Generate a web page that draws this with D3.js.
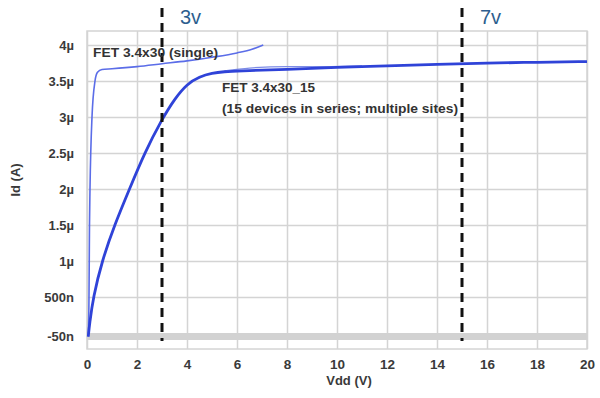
<!DOCTYPE html>
<html>
<head>
<meta charset="utf-8">
<script src="https://cdn.jsdelivr.net/npm/d3@7"></script>
<style>
  body { margin: 0; background: #fff; }
  text { font-family: "Liberation Sans", Arial, sans-serif; }
</style>
</head>
<body>
<div id="container"></div>
<script>
// Id vs Vdd for FET 3.4x30, single device vs 15 in series

// tick values and labels
var yTicks = [-0.05, 0.5, 1, 1.5, 2, 2.5, 3, 3.5, 4];
var yTickLabels = ["-50n", "500n", "1\u00b5", "1.5\u00b5", "2\u00b5", "2.5\u00b5", "3\u00b5", "3.5\u00b5", "4\u00b5"];
var xTicks = [0, 2, 4, 6, 8, 10, 12, 14, 16, 18, 20];

// single device (Vdd, Id in uA)
var singleV  = [0.05, 0.08, 0.1, 0.12, 0.2, 0.32, 0.42, 0.6, 1, 2, 3, 4, 5, 6, 6.6, 7.05];
var singleId = [-0.05, 0.5, 1.5, 2.0, 3.0, 3.5, 3.62, 3.66, 3.67, 3.7, 3.74, 3.78, 3.83, 3.89, 3.94, 4.0];

// 15 in series, main trace
var seriesV  = [0.05, 0.1, 0.25, 0.6, 1.1, 1.7, 2.3, 3.0, 3.5, 4.0, 4.5, 5.0, 5.5, 6, 8, 10, 12, 14, 16, 18, 20];
var seriesId = [-0.05, 0.12, 0.5, 1.0, 1.5, 2.0, 2.5, 2.97, 3.25, 3.46, 3.56, 3.61, 3.63, 3.64, 3.66, 3.69, 3.71, 3.73, 3.75, 3.76, 3.77];

// 15 in series, second site (only differs slightly)
var series2V  = [5.5, 6.5, 8, 9.5, 11];
var series2Id = [3.64, 3.68, 3.7, 3.7, 3.71];

var markerV = [3, 15];
var markerLabels = ["3v", "7v"];

var width = 600, height = 398;
var margin = {top: 31, right: 13, bottom: 49, left: 87};

var svg = d3.select("#container").append("svg")
    .attr("width", width)
    .attr("height", height);

var x = d3.scaleLinear().domain([0, 20]).range([margin.left, width - margin.right]);
var y = d3.scaleLinear().domain([0, 4]).range([333, 45]);

// gridlines
svg.append("g")
    .attr("class", "grid")
    .attr("transform", "translate(0," + (height - margin.bottom) + ")")
    .call(d3.axisBottom(x).tickValues(xTicks).tickSize(-(height - margin.bottom - margin.top)).tickFormat(""))
    .call(function(g) { g.select(".domain").remove(); })
    .selectAll("line").attr("stroke", "#d4d4d4").attr("stroke-width", 1.5);

svg.append("g")
    .attr("class", "grid")
    .attr("transform", "translate(" + margin.left + ",0)")
    .call(d3.axisLeft(y).tickValues(yTicks.slice(1)).tickSize(-(width - margin.left - margin.right)).tickFormat(""))
    .call(function(g) { g.select(".domain").remove(); })
    .selectAll("line").attr("stroke", "#d4d4d4").attr("stroke-width", 1.5);

// plot frame
svg.append("rect")
    .attr("x", margin.left).attr("y", margin.top)
    .attr("width", width - margin.left - margin.right)
    .attr("height", height - margin.top - margin.bottom)
    .attr("fill", "none").attr("stroke", "#d4d4d4").attr("stroke-width", 1.5);

// thick band at -50n
svg.append("line")
    .attr("x1", margin.left).attr("x2", width - margin.right)
    .attr("y1", y(-0.05)).attr("y2", y(-0.05))
    .attr("stroke", "#d2d2d2").attr("stroke-width", 7);

// tick labels
var yAxis = svg.append("g")
    .attr("transform", "translate(" + margin.left + ",0)")
    .call(d3.axisLeft(y).tickValues(yTicks).tickSize(0).tickPadding(13)
        .tickFormat(function(d, i) { return yTickLabels[i]; }));
yAxis.select(".domain").remove();
yAxis.selectAll("text").attr("font-size", 13).attr("font-weight", "bold").attr("fill", "#3a3a3a");

var xAxis = svg.append("g")
    .attr("transform", "translate(0," + (height - margin.bottom) + ")")
    .call(d3.axisBottom(x).tickValues(xTicks).tickSize(0).tickPadding(10));
xAxis.select(".domain").remove();
xAxis.selectAll("text").attr("font-size", 13.5).attr("font-weight", "bold").attr("fill", "#3a3a3a");

// axis titles
svg.append("text")
    .attr("x", 349).attr("y", 385)
    .attr("text-anchor", "middle")
    .attr("font-size", 13).attr("font-weight", "bold").attr("fill", "#3a3a3a")
    .text("Vdd (V)");

svg.append("text")
    .attr("transform", "translate(20,180) rotate(-90)")
    .attr("text-anchor", "middle")
    .attr("font-size", 13).attr("font-weight", "bold").attr("fill", "#3a3a3a")
    .text("Id (A)");

// curves
var line = d3.line()
    .x(function(d) { return x(d[0]); })
    .y(function(d) { return y(d[1]); })
    .curve(d3.curveMonotoneX);

svg.append("path")
    .datum(d3.zip(singleV, singleId))
    .attr("fill", "none").attr("stroke", "#5b6de8").attr("stroke-width", 1.6)
    .attr("d", line);

svg.append("path")
    .datum(d3.zip(series2V, series2Id))
    .attr("fill", "none").attr("stroke", "#7d8ce6").attr("stroke-width", 1.2)
    .attr("d", line);

svg.append("path")
    .datum(d3.zip(seriesV, seriesId))
    .attr("fill", "none").attr("stroke", "#2f43d8").attr("stroke-width", 2.8)
    .attr("d", line.curve(d3.curveBasis));

// dashed voltage markers
svg.selectAll(".marker")
    .data(markerV)
  .enter().append("line")
    .attr("class", "marker")
    .attr("x1", function(d) { return x(d); }).attr("x2", function(d) { return x(d); })
    .attr("y1", 8).attr("y2", 341)
    .attr("stroke", "#111").attr("stroke-width", 3)
    .attr("stroke-dasharray", "9,6");

svg.selectAll(".mlabel")
    .data(markerV)
  .enter().append("text")
    .attr("class", "mlabel")
    .attr("x", function(d) { return x(d) + 18; })
    .attr("y", 24)
    .attr("font-size", 20).attr("fill", "#2d5e8e")
    .text(function(d, i) { return markerLabels[i]; });

// curve annotations
svg.append("text")
    .attr("x", 93).attr("y", 57)
    .attr("font-size", 13.5).attr("font-weight", "bold").attr("fill", "#333")
    .attr("textLength", 125).attr("lengthAdjust", "spacingAndGlyphs")
    .text("FET 3.4x30 (single)");

svg.append("text")
    .attr("x", 222).attr("y", 92)
    .attr("font-size", 13.5).attr("font-weight", "bold").attr("fill", "#333")
    .text("FET 3.4x30_15");

svg.append("text")
    .attr("x", 222).attr("y", 113)
    .attr("font-size", 13.5).attr("font-weight", "bold").attr("fill", "#333")
    .attr("textLength", 236).attr("lengthAdjust", "spacingAndGlyphs")
    .text("(15 devices in series; multiple sites)");
</script>
</body>
</html>
